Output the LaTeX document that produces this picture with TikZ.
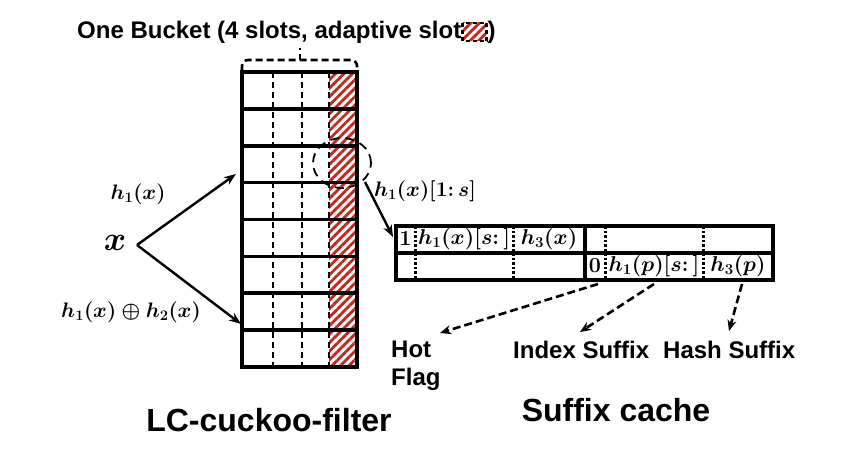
\RequirePackage{fix-cm}
\documentclass[tikz,border=0pt]{standalone}
\usepackage{fontspec}
\setsansfont{Liberation Sans}
\usetikzlibrary{arrows.meta,patterns.meta,calc,shapes.geometric}
\definecolor{hatchred}{RGB}{192,40,30}
\tikzset{
  thickline/.style={line width=3.6pt},
  dashv/.style={line width=2.4pt, dash pattern=on 6pt off 4pt},
  dotv/.style={line width=3pt, dash pattern=on 2.5pt off 2pt},
  hatch/.style={pattern={Lines[angle=45,distance=6pt,line width=2.8pt]}, pattern color=hatchred},
  arr/.style={line width=2.4pt,-{Stealth[length=12pt,width=9pt]}},
  darr/.style={line width=2.6pt, dash pattern=on 8pt off 4pt,-{Stealth[length=11pt,width=9pt]}},
  titlef/.style={font=\sffamily\bfseries\fontsize{24}{28}\selectfont, inner sep=0pt},
  lbl/.style={font=\sffamily\bfseries\fontsize{24}{28}\selectfont, inner sep=0pt, align=left},
  biglbl/.style={font=\sffamily\bfseries\fontsize{32}{36}\selectfont, inner sep=0pt},
  mth/.style={font=\boldmath\fontsize{21}{24}\selectfont, inner sep=0pt},
  cellm/.style={font=\boldmath\fontsize{21.5}{24}\selectfont, inner sep=0pt},
}
\begin{document}
\begin{tikzpicture}[x=1pt,y=-1pt]
\useasboundingbox (0,0) rectangle (850,460);
\fill[white] (0,0) rectangle (850,460);

% ---------- title ----------
\node[titlef, anchor=west] (t1) at (77,32) {One Bucket (4 slots, adaptive slot};
\coordinate (lg1) at ($(t1.east)+(1,-9)$);
\coordinate (lg2) at ($(t1.east)+(25,9)$);
\fill[hatch] (lg1) rectangle (lg2);
\draw[line width=2.4pt, dash pattern=on 4pt off 3pt] (lg1) rectangle (lg2);
\node[titlef, anchor=west] (t2) at ($(t1.east)+(26,0)$) {)};

% ---------- bucket bracket ----------
\coordinate (bl) at (242,71);
\coordinate (br) at (357,71);
\coordinate (bm) at (300,60);
\coordinate (bt) at (300,48);
\draw[line width=2.6pt, dash pattern=on 7pt off 4pt, rounded corners=6pt] (bl) |- (bm) -| (br);
\draw[line width=2.4pt, dash pattern=on 6pt off 4pt] (bm) -- (bt);

% ---------- LC cuckoo filter table ----------
\fill[hatch] (329,72) rectangle (356,367);
\foreach \xx in {273,302,329} {
  \draw[dashv] (\xx,72) -- (\xx,367);
}
\foreach \k in {1,...,7} {
  \draw[thickline] (242,{72+\k*36.875}) -- (357,{72+\k*36.875});
}
\draw[thickline] (242,72) rectangle (357,367);

% hot slot circle
\node[draw, ellipse, minimum width=58pt, minimum height=50pt, line width=1.8pt,
      dash pattern=on 9pt off 6pt, inner sep=0pt] (circ) at (342,163) {};

% ---------- x and its hashes ----------
\node[font=\boldmath\fontsize{34}{40}\selectfont, inner sep=0pt] (x) at (115,243) {$x$};
\coordinate (xv) at (137,245);
\coordinate (in1) at (236,174);
\coordinate (in2) at (241,324);
\draw[arr] (xv) -- (in1);
\draw[arr] (xv) -- (in2);
\node[mth] (h1) at (138,194) {$h_1(x)$};
\node[mth] (h12) at (131,312) {$h_1(x)\oplus h_2(x)$};

% ---------- suffix cache table ----------
\coordinate (sc1) at (396,226);
\coordinate (sc2) at (773,280);
\foreach \xx in {415,513,605,703} {
  \draw[dotv] (\xx,226) -- (\xx,280);
}
\draw[thickline] (396,253) -- (773,253);
\draw[thickline] (585,226) -- (585,280);
\draw[thickline] (sc1) rectangle (sc2);

\node[cellm] (c1) at (405.5,239) {$\mathbf{1}$};
\node[cellm] (c2) at (464,239) {$h_1(x)[s\colon]$};
\node[cellm] (c3) at (549,239) {$h_3(x)$};
\node[cellm] (c4) at (595,266) {$\mathbf{0}$};
\node[cellm] (c5) at (654,266) {$h_1(p)[s\colon]$};
\node[cellm] (c6) at (738,266) {$h_3(p)$};

% arrow from hot slot to suffix cache
\coordinate (ca) at (365,182);
\coordinate (cb) at (393,237);
\draw[arr] (ca) -- (cb);
\node[mth, anchor=west] (h1s) at (374,191) {$h_1(x)[1\colon s]$};

% ---------- field labels ----------
\node[lbl, anchor=north west] (hot) at (391,341) {Hot\\Flag};
\node[lbl, anchor=west] (idx) at (513,350) {Index Suffix};
\node[lbl, anchor=west] (hash) at (663,350) {Hash Suffix};
\coordinate (f1) at (598,284);
\coordinate (f2) at (654,284);
\coordinate (f3) at (742,284);
\coordinate (e1) at (440,333);
\coordinate (e2) at (580,332);
\coordinate (e3) at (729,331);
\draw[darr] (f1) -- (e1);
\draw[darr] (f2) -- (e2);
\draw[darr] (f3) -- (e3);

% ---------- captions ----------
\node[biglbl] (cap1) at (269,420) {LC-cuckoo-filter};
\node[biglbl] (cap2) at (616,410) {Suffix cache};
\end{tikzpicture}
\end{document}
